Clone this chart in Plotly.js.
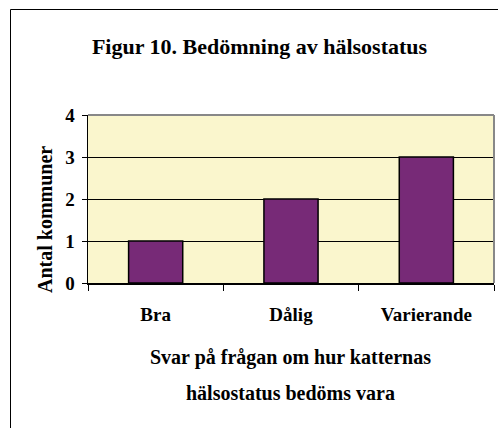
<!DOCTYPE html>
<html><head><meta charset="utf-8">
<script src="https://cdn.plot.ly/plotly-3.0.1.min.js"></script>
<style>html,body{margin:0;padding:0;background:#fff}</style>
</head><body>
<div id="chart" style="width:498px;height:428px"></div>
<script>
const categories = ["Bra", "Dålig", "Varierande"];
const values = [1, 2, 3];
const yTicks = [0, 1, 2, 3, 4];
const titleText = "Figur 10. Bedömning av hälsostatus";
const xTitleLines = ["Svar på frågan om hur katternas", "hälsostatus bedöms vara"];
const yTitleText = "Antal kommuner";

const F = "'Liberation Serif', 'Times New Roman', serif";
const L = 88, R = 494, T = 115, B = 283, W = 498, H = 428;
const pw = R - L, ph = B - T;
const px = x => (x - L) / pw;
const py = y => (B - y) / ph;

const trace = {
  type: "bar", x: categories, y: values,
  marker: {color: "#772A77", line: {color: "#000", width: 1.5}},
  width: 0.4, hoverinfo: "none"
};

const layout = {
  width: W, height: H,
  margin: {l: L, r: W - R, t: T, b: H - B, pad: 0},
  paper_bgcolor: "#fff", plot_bgcolor: "#FAF6CD",
  showlegend: false,
  title: {text: "<b>" + titleText + "</b>", font: {family: F, size: 22, color: "#000"},
          x: 259.5 / W, xref: "container", xanchor: "center", y: 1 - 46 / H, yanchor: "middle"},
  xaxis: {
    type: "category", range: [-0.5, 2.5],
    showline: true, linecolor: "#000", linewidth: 1.5,
    ticks: "outside", ticklen: 6, tickcolor: "#000", tickwidth: 1,
    tickson: "boundaries", ticklabelstandoff: 14,
    tickfont: {family: F, size: 19, color: "#000", weight: "bold"},
    showgrid: false, zeroline: false
  },
  yaxis: {
    range: [0, 4], tickvals: yTicks, ticktext: yTicks.map(String),
    showline: true, linecolor: "#000", linewidth: 1.5,
    ticks: "outside", ticklen: 5, tickcolor: "#000", tickwidth: 1,
    tickfont: {family: F, size: 19, color: "#000", weight: "bold"},
    ticklabelstandoff: 3,
    showgrid: true, gridcolor: "#000", gridwidth: 1, zeroline: false
  },
  shapes: [
    {type: "rect", xref: "paper", yref: "paper", x0: px(10.5), x1: px(520), y0: py(9.5), y1: py(450),
     line: {color: "#000", width: 1}, layer: "below"},
    {type: "line", xref: "paper", yref: "paper", x0: 0, x1: 1, y0: 1, y1: 1, line: {color: "#888", width: 2}},
    {type: "line", xref: "paper", yref: "paper", x0: 1, x1: 1, y0: 0, y1: 1, line: {color: "#888", width: 2}}
  ],
  annotations: [
    {text: "<b>" + yTitleText + "</b>", xref: "paper", yref: "paper", x: px(45), y: py(220), textangle: -90,
     showarrow: false, xanchor: "center", yanchor: "middle", font: {family: F, size: 20, color: "#000"}},
    {text: "<b>" + xTitleLines[0] + "</b>", xref: "paper", yref: "paper", x: px(290), y: py(357),
     showarrow: false, xanchor: "center", yanchor: "middle", font: {family: F, size: 20, color: "#000"}},
    {text: "<b>" + xTitleLines[1] + "</b>", xref: "paper", yref: "paper", x: px(290), y: py(393),
     showarrow: false, xanchor: "center", yanchor: "middle", font: {family: F, size: 20, color: "#000"}}
  ]
};

Plotly.newPlot("chart", [trace], layout, {displayModeBar: false, staticPlot: true});
</script>
</body></html>
